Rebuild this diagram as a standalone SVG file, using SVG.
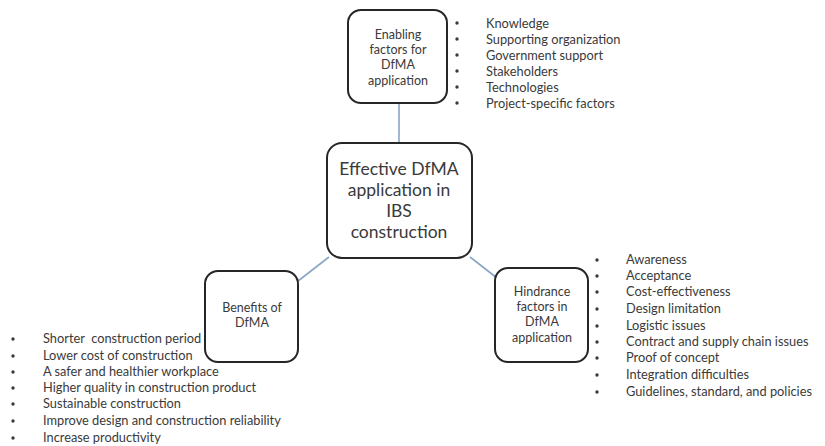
<svg xmlns="http://www.w3.org/2000/svg" width="825" height="446" viewBox="0 0 825 446">
  <style>
    .box { fill: #ffffff; stroke: #262626; stroke-width: 2; }
    .link { stroke: #8aa5c6; stroke-width: 1.6; fill: none; }
    .label { font-family: Lato, "Open Sans", "Liberation Sans", sans-serif; fill: #3a3a3a; text-anchor: middle; }
    .small { font-size: 12.5px; }
    .big { font-size: 17.5px; }
    .list { font-family: Lato, "Open Sans", "Liberation Sans", sans-serif; font-size: 12.8px; fill: #3a3a3a; }
    .dot { fill: #3a3a3a; }
  </style>
  <rect width="825" height="446" fill="#ffffff"/>

  <g id="connectors">
    <line class="link" x1="399" y1="104" x2="399" y2="143"/>
    <line class="link" x1="329" y1="257" x2="298" y2="281"/>
    <line class="link" x1="470" y1="257" x2="497" y2="278"/>
  </g>

  <g id="node-enabling">
    <rect class="box" x="348" y="10" width="99" height="93" rx="13"/>
    <text class="label small" x="398" y="39">Enabling</text>
    <text class="label small" x="398" y="54">factors for</text>
    <text class="label small" x="398" y="69">DfMA</text>
    <text class="label small" x="398" y="85">application</text>
  </g>

  <g id="list-enabling" class="list">
    <text x="486" y="28">Knowledge</text>
    <text x="486" y="44">Supporting organization</text>
    <text x="486" y="60">Government support</text>
    <text x="486" y="76">Stakeholders</text>
    <text x="486" y="92">Technologies</text>
    <text x="486" y="108">Project-specific factors</text>
    <circle class="dot" cx="457" cy="23" r="1.7"/>
    <circle class="dot" cx="457" cy="39" r="1.7"/>
    <circle class="dot" cx="457" cy="55" r="1.7"/>
    <circle class="dot" cx="457" cy="71" r="1.7"/>
    <circle class="dot" cx="457" cy="87" r="1.7"/>
    <circle class="dot" cx="457" cy="103" r="1.7"/>
  </g>

  <g id="node-center">
    <rect class="box" x="327" y="143" width="145" height="115" rx="15"/>
    <text class="label big" x="399" y="175">Effective DfMA</text>
    <text class="label big" x="399" y="196">application in</text>
    <text class="label big" x="399" y="217">IBS</text>
    <text class="label big" x="399" y="238">construction</text>
  </g>

  <g id="node-benefits">
    <rect class="box" x="205" y="271" width="93" height="91" rx="13"/>
    <text class="label small" x="252" y="312">Benefits of</text>
    <text class="label small" x="252" y="327">DfMA</text>
  </g>

  <g id="list-benefits" class="list">
    <text x="43" y="343" xml:space="preserve">Shorter  construction period</text>
    <text x="43" y="360">Lower cost of construction</text>
    <text x="43" y="376">A safer and healthier workplace</text>
    <text x="43" y="392">Higher quality in construction product</text>
    <text x="43" y="408">Sustainable construction</text>
    <text x="43" y="425">Improve design and construction reliability</text>
    <text x="43" y="442">Increase productivity</text>
    <circle class="dot" cx="13" cy="339" r="1.7"/>
    <circle class="dot" cx="13" cy="356" r="1.7"/>
    <circle class="dot" cx="13" cy="372" r="1.7"/>
    <circle class="dot" cx="13" cy="388" r="1.7"/>
    <circle class="dot" cx="13" cy="404" r="1.7"/>
    <circle class="dot" cx="13" cy="421" r="1.7"/>
    <circle class="dot" cx="13" cy="438" r="1.7"/>
  </g>

  <g id="node-hindrance">
    <rect class="box" x="495" y="268" width="93" height="94" rx="13"/>
    <text class="label small" x="542" y="296">Hindrance</text>
    <text class="label small" x="542" y="311">factors in</text>
    <text class="label small" x="542" y="326">DfMA</text>
    <text class="label small" x="542" y="342">application</text>
  </g>

  <g id="list-hindrance" class="list">
    <text x="626" y="264">Awareness</text>
    <text x="626" y="280">Acceptance</text>
    <text x="626" y="296">Cost-effectiveness</text>
    <text x="626" y="313">Design limitation</text>
    <text x="626" y="330">Logistic issues</text>
    <text x="626" y="346">Contract and supply chain issues</text>
    <text x="626" y="362">Proof of concept</text>
    <text x="626" y="379">Integration difficulties</text>
    <text x="626" y="396">Guidelines, standard, and policies</text>
    <circle class="dot" cx="597" cy="260" r="1.7"/>
    <circle class="dot" cx="597" cy="276" r="1.7"/>
    <circle class="dot" cx="597" cy="292" r="1.7"/>
    <circle class="dot" cx="597" cy="309" r="1.7"/>
    <circle class="dot" cx="597" cy="326" r="1.7"/>
    <circle class="dot" cx="597" cy="342" r="1.7"/>
    <circle class="dot" cx="597" cy="358" r="1.7"/>
    <circle class="dot" cx="597" cy="375" r="1.7"/>
    <circle class="dot" cx="597" cy="392" r="1.7"/>
  </g>
</svg>
